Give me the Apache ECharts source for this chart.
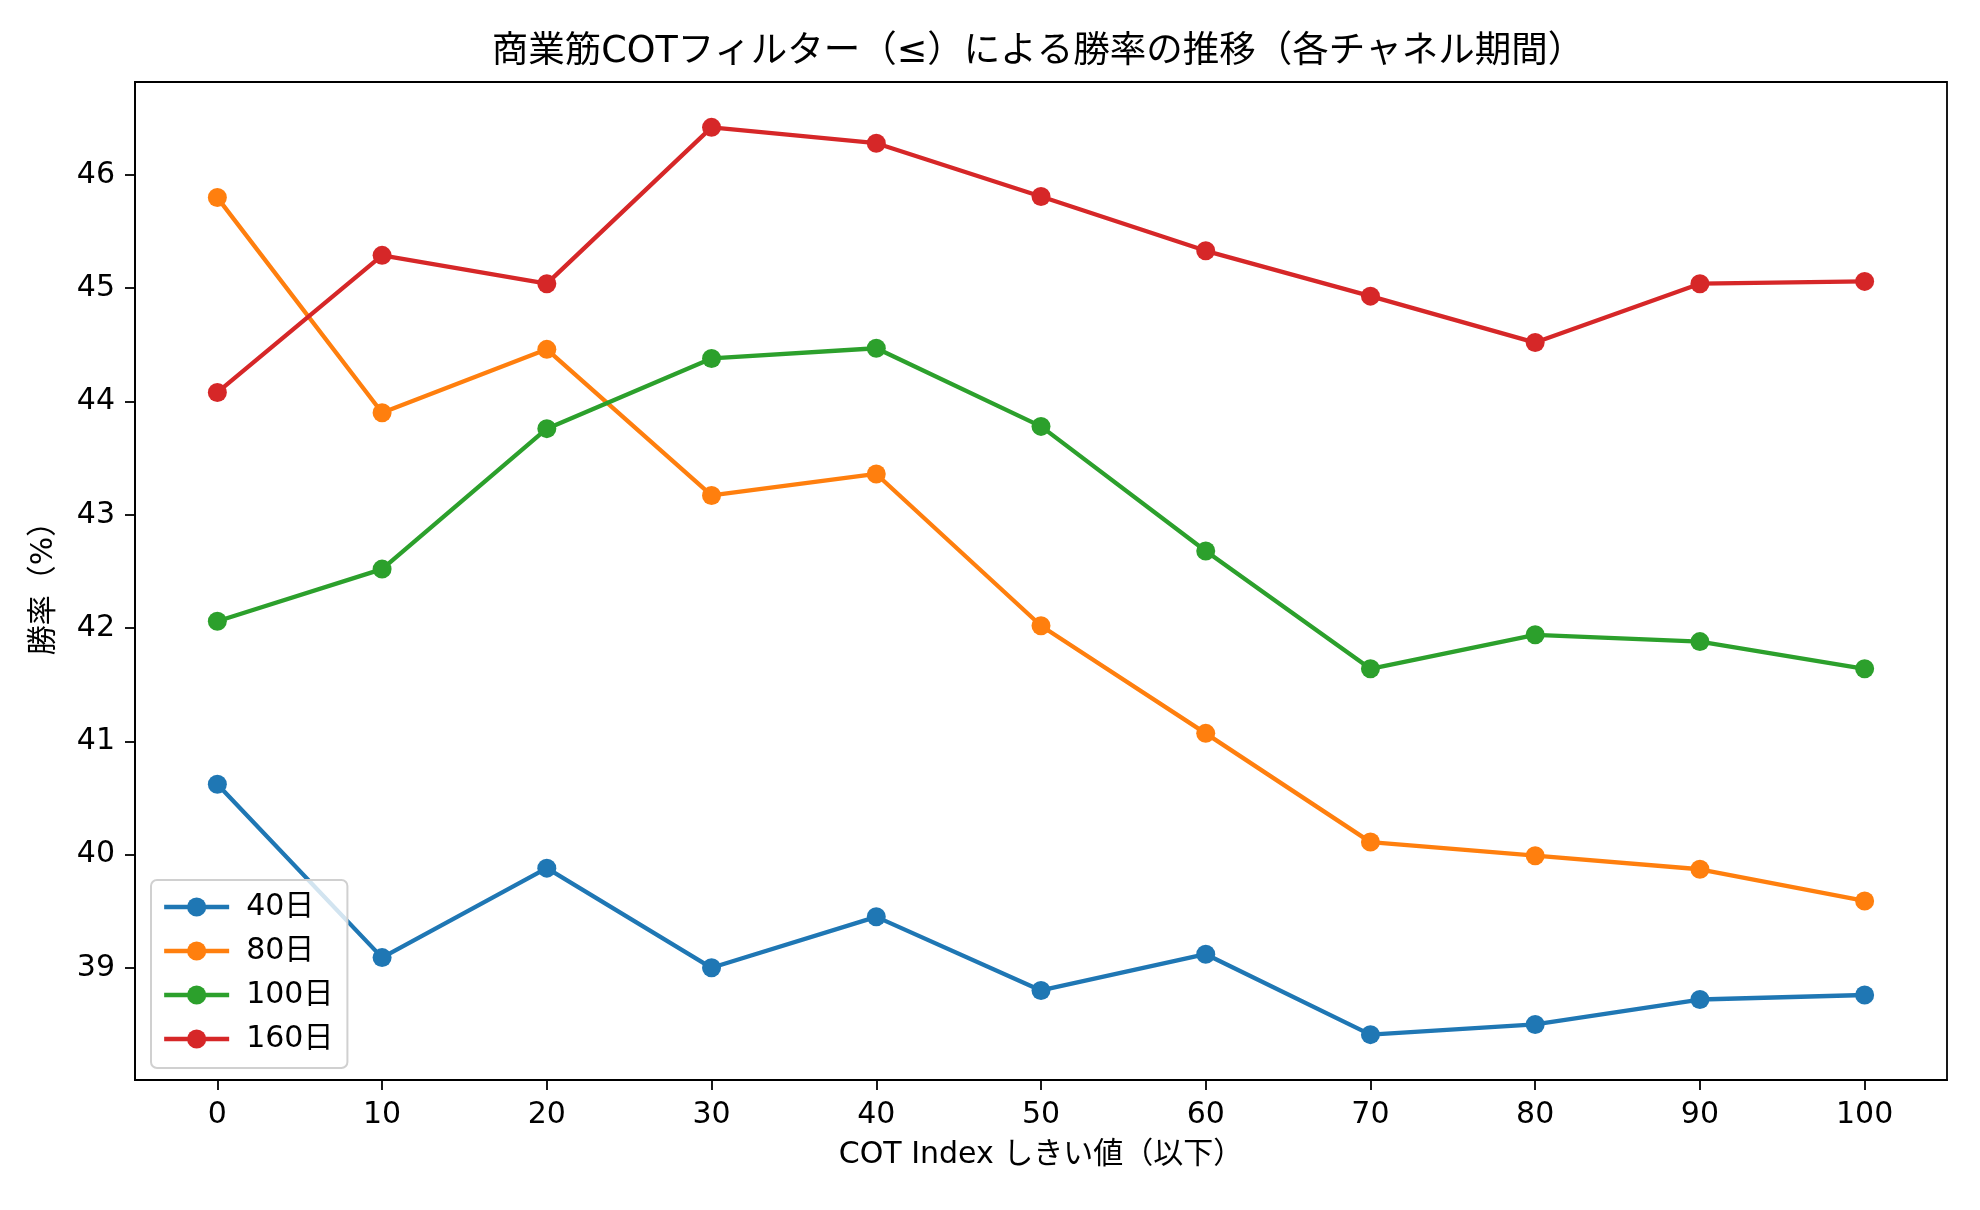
<!DOCTYPE html>
<html>
<head>
<meta charset="utf-8">
<script src="https://cdn.jsdelivr.net/npm/echarts@6/dist/echarts.min.js"></script>
<style>html,body{margin:0;padding:0;background:#fff;}#c{width:1980px;height:1210px;}</style>
</head>
<body>
<div id="c"></div>
<script>
const thresholds = [0, 10, 20, 30, 40, 50, 60, 70, 80, 90, 100];
const seriesNames = ['40日', '80日', '100日', '160日'];
const win40 = [40.62, 39.09, 39.88, 39.00, 39.45, 38.80, 39.12, 38.41, 38.50, 38.72, 38.76];
const win80 = [45.80, 43.90, 44.46, 43.17, 43.36, 42.02, 41.07, 40.11, 39.99, 39.87, 39.59];
const win100 = [42.06, 42.52, 43.76, 44.38, 44.47, 43.78, 42.68, 41.64, 41.94, 41.88, 41.64];
const win160 = [44.08, 45.29, 45.04, 46.42, 46.28, 45.81, 45.33, 44.93, 44.52, 45.04, 45.06];
const yTicks = [39, 40, 41, 42, 43, 44, 45, 46];
const xTicks = [0, 10, 20, 30, 40, 50, 60, 70, 80, 90, 100];
const colors = ['#1f77b4', '#ff7f0e', '#2ca02c', '#d62728'];

const allVals = [].concat(win40, win80, win100, win160);
const dMin = Math.min(...allVals), dMax = Math.max(...allVals);
const pad = (dMax - dMin) * 0.05;
const FONT = '"DejaVu Sans", "Noto Sans CJK JP", sans-serif';

const chart = echarts.init(document.getElementById('c'), null, {renderer: 'canvas'});
const dataSets = [win40, win80, win100, win160];
const series = dataSets.map((arr, i) => ({
  name: seriesNames[i],
  type: 'line',
  data: thresholds.map((t, j) => [t, arr[j]]),
  symbol: 'circle',
  symbolSize: 19,
  showAllSymbol: true,
  lineStyle: {width: 4.3, color: colors[i]},
  itemStyle: {color: colors[i]},
  emphasis: {disabled: true},
  animation: false,
  z: 2 + i
}));

chart.setOption({
  animation: false,
  textStyle: {fontFamily: FONT},
  title: {
    text: '商業筋COTフィルター（≤）による勝率の推移（各チャネル期間）',
    left: 1033, top: 29, textAlign: 'center',
    textStyle: {fontFamily: FONT, fontSize: 36.5, fontWeight: 'normal', color: '#000'}
  },
  grid: {
    left: 135, top: 82, right: 33, bottom: 130,
    show: true, borderColor: '#000', borderWidth: 1.8, backgroundColor: 'transparent'
  },
  legend: {
    orient: 'vertical',
    left: 151, top: 880,
    data: seriesNames,
    itemWidth: 65, itemHeight: 24, itemGap: 14,
    padding: [12, 14, 14, 11],
    lineStyle: {width: 4.3},
    backgroundColor: 'rgba(255,255,255,0.8)',
    borderColor: '#d0d0d0', borderWidth: 2, borderRadius: 6,
    textStyle: {fontFamily: FONT, fontSize: 30, color: '#000', padding: [0, 0, 0, 12]},
    z: 10
  },
  xAxis: {
    type: 'value', min: -5, max: 105,
    name: 'COT Index しきい値（以下）',
    nameLocation: 'middle', nameGap: 60,
    nameTextStyle: {fontFamily: FONT, fontSize: 30, color: '#000'},
    axisLine: {show: true, onZero: false, lineStyle: {color: '#000', width: 1.8}},
    axisTick: {show: true, length: 10, lineStyle: {color: '#000', width: 1.8}, customValues: xTicks},
    axisLabel: {fontFamily: FONT, fontSize: 30, color: '#000', margin: 20, customValues: xTicks},
    splitLine: {show: false}
  },
  yAxis: {
    type: 'value', min: dMin - pad, max: dMax + pad,
    name: '勝率（%）',
    nameLocation: 'middle', nameGap: 76, nameRotate: 90,
    nameTextStyle: {fontFamily: FONT, fontSize: 30, color: '#000'},
    axisLine: {show: true, onZero: false, lineStyle: {color: '#000', width: 1.8}},
    axisTick: {show: true, length: 10, lineStyle: {color: '#000', width: 1.8}, customValues: yTicks},
    axisLabel: {fontFamily: FONT, fontSize: 30, color: '#000', margin: 20, customValues: yTicks},
    splitLine: {show: false}
  },
  series: series
});
</script>
</body>
</html>
